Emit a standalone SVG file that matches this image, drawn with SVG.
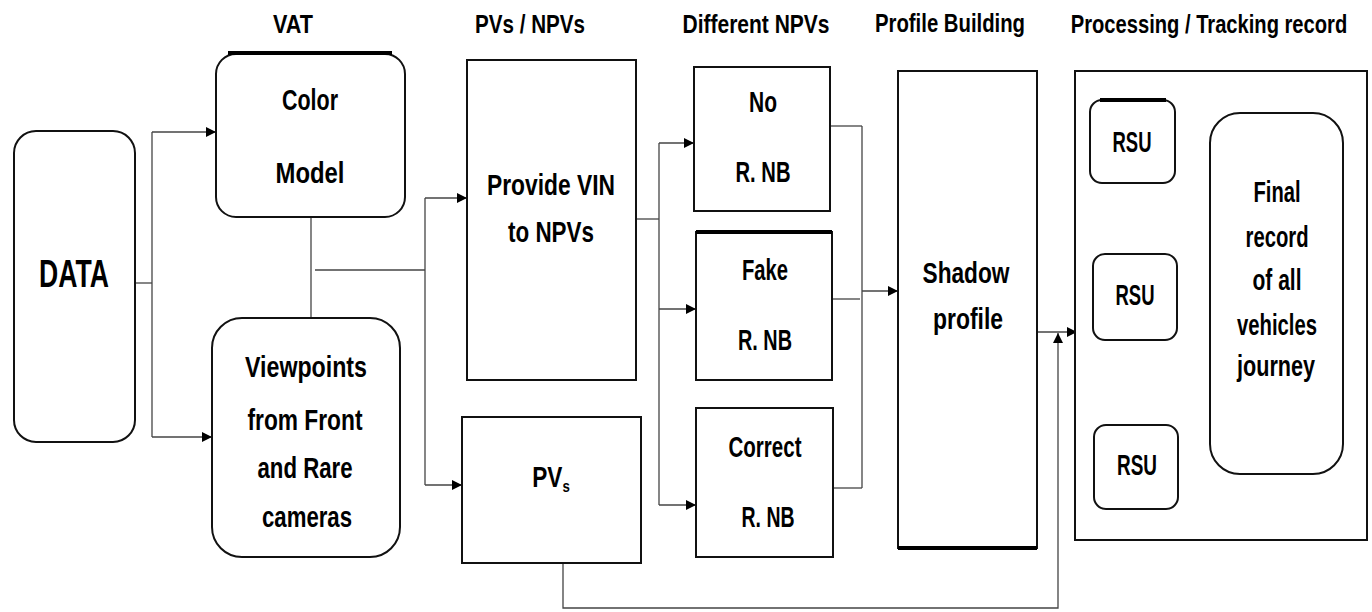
<svg xmlns="http://www.w3.org/2000/svg" width="1372" height="612" viewBox="0 0 1372 612">
<defs>
<marker id="arr" markerWidth="11" markerHeight="11" refX="10" refY="5" orient="auto" markerUnits="userSpaceOnUse">
<path d="M0,0 L10,5 L0,10 z" fill="#000"/>
</marker>
<style>
.box{fill:#fff;stroke:#111;stroke-width:2}
.thick{stroke:#000;stroke-width:4;fill:none}
.c{fill:none;stroke:#444;stroke-width:1.3}
.t{font-family:"Liberation Sans",Arial,sans-serif;font-weight:bold;font-size:29px;text-anchor:middle;fill:#000}
.h{font-size:25px}
.d{font-size:38px}
</style>
</defs>
<rect width="1372" height="612" fill="#fff"/>

<g id="headers">
<text class="t h" x="293" y="33" textLength="40" lengthAdjust="spacingAndGlyphs">VAT</text>
<text class="t h" x="530" y="33" textLength="110" lengthAdjust="spacingAndGlyphs">PVs / NPVs</text>
<text class="t h" x="756" y="33" textLength="147" lengthAdjust="spacingAndGlyphs">Different NPVs</text>
<text class="t h" x="950" y="32" textLength="150" lengthAdjust="spacingAndGlyphs">Profile Building</text>
<text class="t h" transform="translate(1209,33) scale(0.806,1)" x="0" y="0">Processing / Tracking record</text>
</g>

<g id="connectors">
<path class="c" d="M135,283 H152"/>
<path class="c" d="M152,132 V437"/>
<path class="c" d="M152,132 H216" marker-end="url(#arr)"/>
<path class="c" d="M152,437 H212" marker-end="url(#arr)"/>
<path class="c" d="M311,217 V318"/>
<path class="c" d="M315,270 H425"/>
<path class="c" d="M425,198 V485"/>
<path class="c" d="M425,198 H467" marker-end="url(#arr)"/>
<path class="c" d="M425,485 H462" marker-end="url(#arr)"/>
<path class="c" d="M636,219 H659"/>
<path class="c" d="M659,143 V505"/>
<path class="c" d="M659,143 H694" marker-end="url(#arr)"/>
<path class="c" d="M659,309 H696" marker-end="url(#arr)"/>
<path class="c" d="M659,505 H696" marker-end="url(#arr)"/>
<path class="c" d="M830,126 H862"/>
<path class="c" d="M828,299 H860"/>
<path class="c" d="M833,488 H862"/>
<path class="c" d="M862,126 V488"/>
<path class="c" d="M862,291 H898" marker-end="url(#arr)"/>
<path class="c" d="M1037,332 H1077" marker-end="url(#arr)"/>
<path class="c" d="M563,563 V608 H1058 V333" marker-end="url(#arr)"/>
<path class="c" d="M1137,183 V254"/>
<path class="c" d="M1138,340 V425"/>
<path class="c" d="M1183,294 H1213" marker-end="url(#arr)"/>
</g>

<g id="data">
<rect class="box" x="14" y="131" width="121" height="311" rx="22"/>
<text class="t d" x="74" y="287" textLength="70" lengthAdjust="spacingAndGlyphs">DATA</text>
</g>

<g id="color-model">
<rect class="box" x="216" y="54" width="189" height="163" rx="20"/>
<path class="thick" d="M228,53 H392"/>
<text class="t" x="310" y="110" textLength="56" lengthAdjust="spacingAndGlyphs">Color</text>
<text class="t" x="310" y="183" textLength="69" lengthAdjust="spacingAndGlyphs">Model</text>
</g>

<g id="viewpoints">
<rect class="box" x="212" y="318" width="188" height="239" rx="30"/>
<text class="t" x="306" y="377" textLength="122" lengthAdjust="spacingAndGlyphs">Viewpoints</text>
<text class="t" x="305" y="430" textLength="115" lengthAdjust="spacingAndGlyphs">from Front</text>
<text class="t" x="305" y="478" textLength="95" lengthAdjust="spacingAndGlyphs">and Rare</text>
<text class="t" x="307" y="527" textLength="90" lengthAdjust="spacingAndGlyphs">cameras</text>
</g>

<g id="provide-vin">
<rect class="box" x="467" y="60" width="169" height="320"/>
<text class="t" x="551" y="195" textLength="128" lengthAdjust="spacingAndGlyphs">Provide VIN</text>
<text class="t" x="551" y="242" textLength="86" lengthAdjust="spacingAndGlyphs">to NPVs</text>
</g>

<g id="pvs">
<rect class="box" x="462" y="417" width="179" height="146"/>
<text class="t" transform="translate(551,487) scale(0.78,1)" x="0" y="0">PV<tspan font-size="17" dy="5">s</tspan></text>
</g>

<g id="no-rnb">
<rect class="box" x="694" y="67" width="136" height="144"/>
<text class="t" x="763" y="112" textLength="28" lengthAdjust="spacingAndGlyphs">No</text>
<text class="t" x="763" y="182" textLength="55" lengthAdjust="spacingAndGlyphs">R. NB</text>
</g>

<g id="fake-rnb">
<rect class="box" x="696" y="232" width="136" height="148"/>
<path class="thick" d="M696,232 H832"/>
<text class="t" x="765" y="280" textLength="46" lengthAdjust="spacingAndGlyphs">Fake</text>
<text class="t" x="765" y="350" textLength="54" lengthAdjust="spacingAndGlyphs">R. NB</text>
</g>

<g id="correct-rnb">
<rect class="box" x="696" y="408" width="137" height="149"/>
<text class="t" x="765" y="457" textLength="73" lengthAdjust="spacingAndGlyphs">Correct</text>
<text class="t" x="768" y="527" textLength="53" lengthAdjust="spacingAndGlyphs">R. NB</text>
</g>

<g id="shadow-profile">
<rect class="box" x="898" y="71" width="139" height="477"/>
<path class="thick" d="M898,548 H1037"/>
<text class="t" x="966" y="283" textLength="87" lengthAdjust="spacingAndGlyphs">Shadow</text>
<text class="t" x="968" y="329" textLength="70" lengthAdjust="spacingAndGlyphs">profile</text>
</g>

<g id="processing">
<rect class="box" x="1075" y="71" width="292" height="469"/>
</g>

<g id="rsu1">
<rect class="box" x="1090" y="100" width="85" height="83" rx="12"/>
<path class="thick" d="M1100,100 H1166"/>
<text class="t" x="1132" y="152" textLength="39" lengthAdjust="spacingAndGlyphs">RSU</text>
</g>

<g id="rsu2">
<rect class="box" x="1093" y="254" width="84" height="86" rx="12"/>
<text class="t" x="1135" y="305" textLength="39" lengthAdjust="spacingAndGlyphs">RSU</text>
</g>

<g id="rsu3">
<rect class="box" x="1094" y="425" width="84" height="84" rx="12"/>
<text class="t" x="1137" y="475" textLength="40" lengthAdjust="spacingAndGlyphs">RSU</text>
</g>

<g id="final-record">
<rect class="box" x="1210" y="113" width="133" height="361" rx="30"/>
<text class="t" x="1277" y="202" textLength="47" lengthAdjust="spacingAndGlyphs">Final</text>
<text class="t" x="1277" y="247" textLength="63" lengthAdjust="spacingAndGlyphs">record</text>
<text class="t" x="1277" y="290" textLength="49" lengthAdjust="spacingAndGlyphs">of all</text>
<text class="t" x="1277" y="335" textLength="80" lengthAdjust="spacingAndGlyphs">vehicles</text>
<text class="t" x="1276" y="376" textLength="78" lengthAdjust="spacingAndGlyphs">journey</text>
</g>
</svg>
